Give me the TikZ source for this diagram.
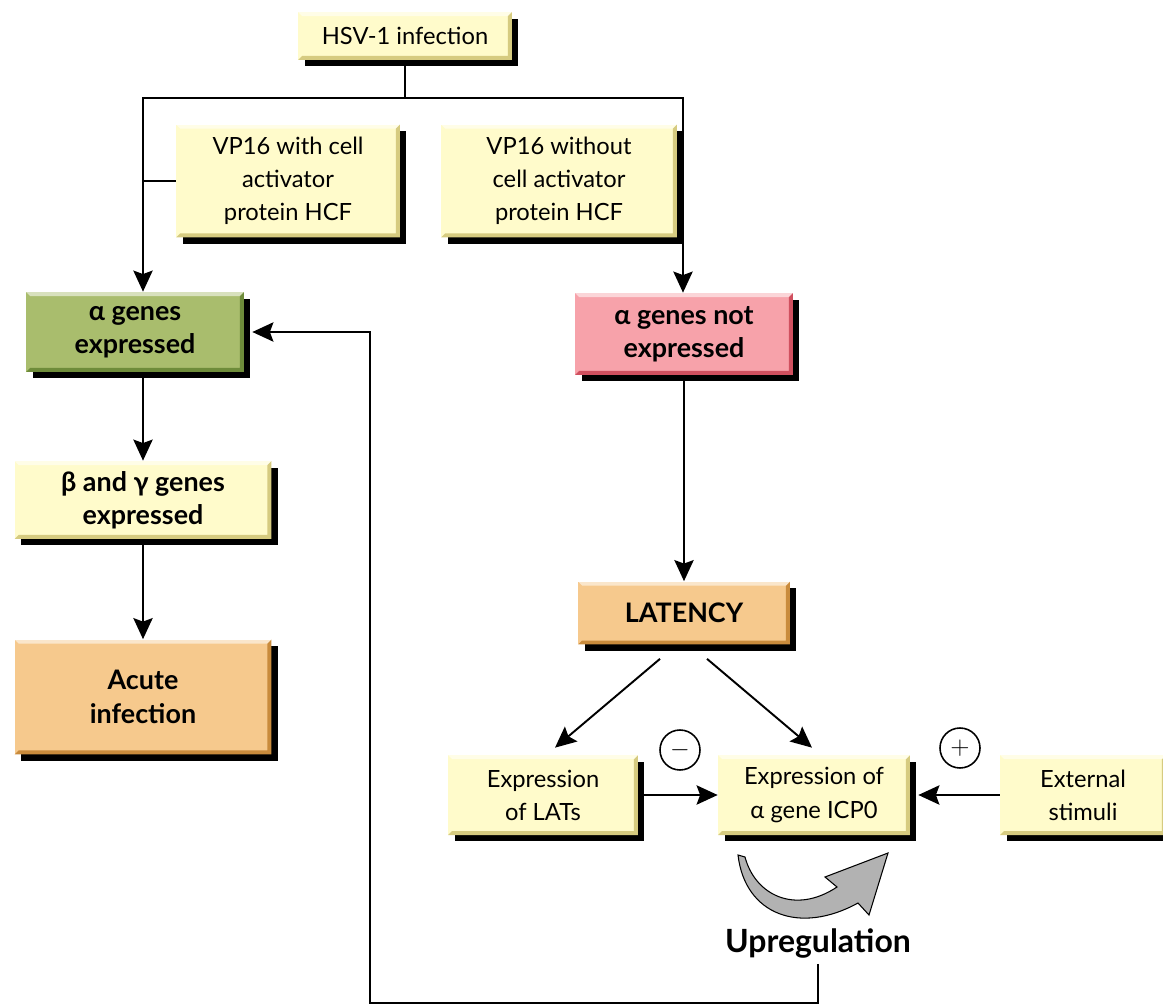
\documentclass[tikz,border=0pt]{standalone}
\usepackage{fontspec}
\setmainfont{Lato}
\usepackage{tikz}
\usepackage{xcolor}
\usetikzlibrary{arrows.meta,shadows}

\definecolor{ylwface}{HTML}{FFFBCB}
\definecolor{ylwedge}{HTML}{D6CB80}
\definecolor{grnface}{HTML}{A9BD6D}
\definecolor{grnedge}{HTML}{6E8C3A}
\definecolor{pnkface}{HTML}{F7A2AA}
\definecolor{pnkedge}{HTML}{D0505F}
\definecolor{orgface}{HTML}{F6C98D}
\definecolor{orgedge}{HTML}{C98B3C}

\tikzset{
        box/.style 2 args={fill=#1, align=center, inner sep=0pt,
                font=\fontsize{13.5}{18.8}\selectfont,
                general shadow={fill=black, shadow xshift=0.13cm, shadow yshift=-0.13cm},
                path picture={
                        \fill[#2] (path picture bounding box.south west) -- (path picture bounding box.south east)
                                -- (path picture bounding box.north east)
                                -- ([shift={(-0.08cm,-0.08cm)}]path picture bounding box.north east)
                                -- ([shift={(-0.08cm,0.08cm)}]path picture bounding box.south east)
                                -- ([shift={(0.08cm,0.08cm)}]path picture bounding box.south west) -- cycle;
                        \fill[white, opacity=0.55] (path picture bounding box.north west) -- (path picture bounding box.north east)
                                -- ([shift={(-0.08cm,-0.08cm)}]path picture bounding box.north east)
                                -- ([shift={(0.08cm,-0.08cm)}]path picture bounding box.north west) -- cycle;}},
        bold/.style={font=\fontsize{15.3}{19}\selectfont\bfseries},
        link/.style={line width=1.1pt},
        arr/.style={line width=1.1pt, -{Stealth[length=12pt,width=11pt,inset=2pt]}},
        sign/.style={circle, draw, line width=0.9pt, minimum size=0.8cm, inner sep=0pt, font=\Large}
}

\begin{document}
\begin{tikzpicture}[x=0.02cm, y=-0.02cm]
        \useasboundingbox (0,0) rectangle (1163,1007);

        \node[box={ylwface}{ylwedge}, minimum width=4.28cm, minimum height=0.96cm] (hsv) at (405,36) {HSV-1 infection};
        \node[box={ylwface}{ylwedge}, minimum width=4.48cm, minimum height=2.26cm] (vpw) at (288,181) {VP16 with cell\\activator\\protein HCF};
        \node[box={ylwface}{ylwedge}, minimum width=4.72cm, minimum height=2.26cm] (vpo) at (559,181) {VP16 without\\cell activator\\protein HCF};
        \node[box={grnface}{grnedge}, bold, minimum width=4.36cm, minimum height=1.6cm] (ag) at (135,332) {α genes\\expressed};
        \node[box={pnkface}{pnkedge}, bold, minimum width=4.36cm, minimum height=1.64cm] (ang) at (684,334) {α genes not\\expressed};
        \node[box={ylwface}{ylwedge}, bold, minimum width=5.14cm, minimum height=1.56cm] (bg) at (143,500) {β and γ genes\\expressed};
        \node[box={orgface}{orgedge}, bold, minimum width=5.14cm, minimum height=2.3cm] (acute) at (143,697) {Acute\\infection};
        \node[box={orgface}{orgedge}, bold, minimum width=4.24cm, minimum height=1.26cm] (lat) at (684,613) {LATENCY};
        \node[box={ylwface}{ylwedge}, minimum width=3.8cm, minimum height=1.6cm] (lats) at (543,795) {Expression\\of LATs};
        \node[box={ylwface}{ylwedge}, minimum width=3.84cm, minimum height=1.6cm] (icp) at (814,795) {Expression of\\α gene ICP0};
        \node[box={ylwface}{ylwedge}, minimum width=3.32cm, minimum height=1.6cm] (ext) at (1083,795) {External\\stimuli};
        \node[sign] (minus) at (680,750) {$-$};
        \node[sign] (plus) at (960,748) {$+$};
        \node[font=\fontsize{18.2}{21}\selectfont\bfseries] (up) at (818,943) {Upregulation};

        \coordinate (jt) at (405,98);
        \coordinate (jl) at (143,98);
        \coordinate (jr) at (683,98);
        \coordinate (fb) at (370,1003);

        \draw[link] (hsv) -- (jt);
        \draw[arr] (jt) -- (jl) -- (jl |- ag.north);
        \draw[arr] (jt) -- (jr) -- (jr |- ang.north);
        \draw[link] (vpw.west) -- (vpw.west -| jl);
        \draw[link] (vpo.east) -- (vpo.east -| jr);
        \draw[arr] (bg.north |- ag.south) -- (bg.north);
        \draw[arr] (bg) -- (acute);
        \draw[arr] (ang) -- (lat);
        \draw[arr] ([shift={(-0.48cm,-0.28cm)}]lat.south) -- ([shift={(0.24cm,0.14cm)}]lats.north);
        \draw[arr] ([shift={(0.46cm,-0.28cm)}]lat.south) -- ([shift={(-0.04cm,0.14cm)}]icp.north);
        \draw[arr] (lats) -- (icp);
        \draw[arr] (ext) -- ([xshift=0.16cm]icp.east);
        \draw[arr] (up.south) -- (up.south |- fb) -- (fb) -- (fb |- ag.east) -- ([xshift=0.16cm]ag.east);

        \filldraw[fill=black!30, draw=black, line width=0.6pt] (738,855) .. controls (745,915) and (800,935) .. (858,903)
                -- (869,915) -- (888,853) -- (825,877) -- (837,887) .. controls (795,915) and (755,895) .. (745,857) -- cycle;
\end{tikzpicture}
\end{document}
